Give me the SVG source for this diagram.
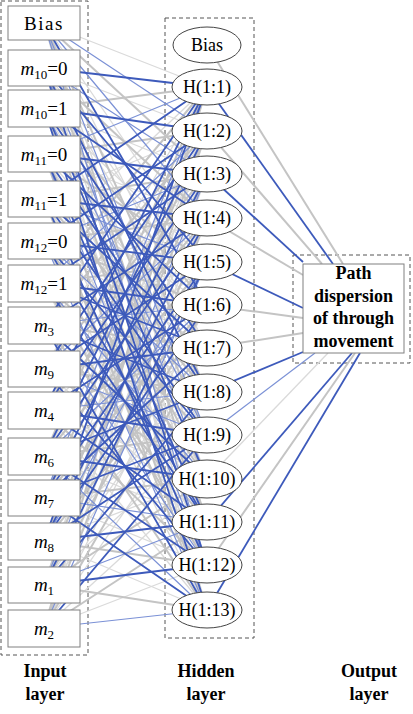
<svg xmlns="http://www.w3.org/2000/svg" width="413" height="714" viewBox="0 0 413 714">
<style>
.g{stroke:#dadada;stroke-width:1.3;fill:none}
.G{stroke:#c4c4c4;stroke-width:2;fill:none}
.b{stroke:#7b91d6;stroke-width:1.2;fill:none}
.B{stroke:#3d5abb;stroke-width:1.8;fill:none}
.dash{fill:none;stroke:#555;stroke-width:1;stroke-dasharray:4,3}
.box{fill:#fff;stroke:#808080;stroke-width:1}
.ell{fill:#fff;stroke:#444;stroke-width:1}
.t{font-family:"Liberation Serif","Times New Roman",serif;font-size:19px;fill:#000;text-anchor:middle}
.h{font-family:"Liberation Serif","Times New Roman",serif;font-size:18px;fill:#000;text-anchor:middle}
.bold{font-family:"Liberation Serif","Times New Roman",serif;font-size:18px;font-weight:bold;fill:#000;text-anchor:middle}
</style>
<rect width="413" height="714" fill="#fff"/>
<g id="frames">
<rect class="dash" x="1" y="1" width="87" height="654"/>
<rect class="dash" x="165" y="18" width="89" height="620"/>
<rect class="dash" x="293" y="255" width="117" height="108"/>
</g>
<g id="connectors">
<path class="g" d="M44 23L207 87M44 23L207 262M44 23L207 348M44 23L207 479M44 23L207 610"/>
<path class="g" d="M44 68L207 131M44 68L207 305M44 68L207 348M44 68L207 522M44 68L207 610"/>
<path class="g" d="M44 108L207 174M44 108L207 262M44 108L207 392M44 108L207 565"/>
<path class="g" d="M44 154L207 218M44 154L207 348M44 154L207 435"/>
<path class="g" d="M44 199L207 131M44 199L207 305M44 199L207 479M44 199L207 522"/>
<path class="g" d="M44 241L207 87M44 241L207 348M44 241L207 565"/>
<path class="g" d="M44 283L207 218M44 283L207 392M44 283L207 610"/>
<path class="g" d="M44 325L207 174M44 325L207 262M44 325L207 435"/>
<path class="g" d="M44 369L207 87M44 369L207 305M44 369L207 522"/>
<path class="g" d="M44 410L207 131M44 410L207 262M44 410L207 479M44 410L207 610"/>
<path class="g" d="M44 456L207 174M44 456L207 348M44 456L207 522"/>
<path class="g" d="M44 498L207 218M44 498L207 392M44 498L207 565"/>
<path class="g" d="M44 541L207 131M44 541L207 392M44 541L207 479M44 541L207 610"/>
<path class="g" d="M44 585L207 87M44 585L207 218M44 585L207 348M44 585L207 435"/>
<path class="g" d="M44 628L207 131M44 628L207 174M44 628L207 305M44 628L207 392M44 628L207 479M44 628L207 565"/>
<path class="G" d="M44 23L207 174M44 23L207 392M44 23L207 522"/>
<path class="G" d="M44 68L207 218M44 68L207 435"/>
<path class="G" d="M44 108L207 87M44 108L207 305M44 108L207 522"/>
<path class="G" d="M44 154L207 131M44 154L207 262M44 154L207 479M44 154L207 610"/>
<path class="G" d="M44 199L207 174M44 199L207 392M44 199L207 610"/>
<path class="G" d="M44 241L207 218M44 241L207 305M44 241L207 479"/>
<path class="G" d="M44 283L207 87M44 283L207 262M44 283L207 435M44 283L207 565"/>
<path class="G" d="M44 325L207 131M44 325L207 348M44 325L207 522"/>
<path class="G" d="M44 369L207 174M44 369L207 392M44 369L207 479M44 369L207 610"/>
<path class="G" d="M44 410L207 218M44 410L207 348M44 410L207 565"/>
<path class="G" d="M44 456L207 87M44 456L207 262M44 456L207 435"/>
<path class="G" d="M44 498L207 131M44 498L207 305M44 498L207 479"/>
<path class="G" d="M44 541L207 174M44 541L207 348M44 541L207 565"/>
<path class="G" d="M44 585L207 131M44 585L207 305M44 585L207 479M44 585L207 610"/>
<path class="G" d="M44 628L207 87M44 628L207 218M44 628L207 348M44 628L207 522"/>
<path class="b" d="M44 23L207 131M44 23L207 218M44 23L207 435M44 23L207 565"/>
<path class="b" d="M44 68L207 174M44 68L207 479"/>
<path class="b" d="M44 108L207 435"/>
<path class="b" d="M44 154L207 87M44 154L207 565"/>
<path class="b" d="M44 199L207 262"/>
<path class="b" d="M44 241L207 174M44 241L207 392M44 241L207 610"/>
<path class="b" d="M44 283L207 131M44 283L207 479"/>
<path class="b" d="M44 325L207 305M44 325L207 565"/>
<path class="b" d="M44 369L207 218M44 369L207 435"/>
<path class="b" d="M44 410L207 392"/>
<path class="b" d="M44 456L207 305M44 456L207 610"/>
<path class="b" d="M44 498L207 87M44 498L207 522"/>
<path class="b" d="M44 541L207 262"/>
<path class="b" d="M44 585L207 174M44 585L207 522"/>
<path class="b" d="M44 628L207 262M44 628L207 610"/>
<path class="B" d="M44 23L207 305"/>
<path class="B" d="M44 68L207 87M44 68L207 262M44 68L207 392M44 68L207 565"/>
<path class="B" d="M44 108L207 131M44 108L207 218M44 108L207 348M44 108L207 479M44 108L207 610"/>
<path class="B" d="M44 154L207 174M44 154L207 305M44 154L207 392M44 154L207 522"/>
<path class="B" d="M44 199L207 87M44 199L207 218M44 199L207 348M44 199L207 435M44 199L207 565"/>
<path class="B" d="M44 241L207 131M44 241L207 262M44 241L207 435M44 241L207 522"/>
<path class="B" d="M44 283L207 174M44 283L207 305M44 283L207 348M44 283L207 522"/>
<path class="B" d="M44 325L207 87M44 325L207 218M44 325L207 392M44 325L207 479M44 325L207 610"/>
<path class="B" d="M44 369L207 131M44 369L207 262M44 369L207 348M44 369L207 565"/>
<path class="B" d="M44 410L207 87M44 410L207 174M44 410L207 305M44 410L207 435M44 410L207 522"/>
<path class="B" d="M44 456L207 131M44 456L207 218M44 456L207 392M44 456L207 479M44 456L207 565"/>
<path class="B" d="M44 498L207 174M44 498L207 262M44 498L207 348M44 498L207 435M44 498L207 610"/>
<path class="B" d="M44 541L207 87M44 541L207 218M44 541L207 305M44 541L207 435M44 541L207 522"/>
<path class="B" d="M44 585L207 262M44 585L207 392M44 585L207 565"/>
<path class="B" d="M44 628L207 435"/>
<path class="G" d="M207 45L343 264"/>
<path class="B" d="M207 87L333 264"/>
<path class="G" d="M207 131L322 264"/>
<path class="B" d="M207 174L303 262"/>
<path class="G" d="M207 218L303 275"/>
<path class="B" d="M207 262L303 308"/>
<path class="G" d="M207 305L303 318"/>
<path class="G" d="M207 348L303 333"/>
<path class="B" d="M207 392L303 352"/>
<path class="b" d="M207 435L315 353"/>
<path class="g" d="M207 479L328 353"/>
<path class="B" d="M207 522L352 353"/>
<path class="G" d="M207 565L355 353"/>
<path class="B" d="M207 610L360 353"/>
</g>
<g id="in-bias"><rect class="box" x="8" y="6" width="72" height="34"/><text class="t" x="44" y="29.5" font-size="20" letter-spacing="1.5">Bias</text></g>
<g id="in-m10-0"><rect class="box" x="8" y="50" width="72" height="36"/><text class="t" x="44" y="75"><tspan font-style="italic">m</tspan><tspan font-size="13" dy="4">10</tspan><tspan dy="-4">=0</tspan></text></g>
<g id="in-m10-1"><rect class="box" x="8" y="90" width="72" height="37"/><text class="t" x="44" y="115"><tspan font-style="italic">m</tspan><tspan font-size="13" dy="4">10</tspan><tspan dy="-4">=1</tspan></text></g>
<g id="in-m11-0"><rect class="box" x="8" y="136" width="72" height="36"/><text class="t" x="44" y="161"><tspan font-style="italic">m</tspan><tspan font-size="13" dy="4">11</tspan><tspan dy="-4">=0</tspan></text></g>
<g id="in-m11-1"><rect class="box" x="8" y="181" width="72" height="36"/><text class="t" x="44" y="206"><tspan font-style="italic">m</tspan><tspan font-size="13" dy="4">11</tspan><tspan dy="-4">=1</tspan></text></g>
<g id="in-m12-0"><rect class="box" x="8" y="223" width="72" height="36"/><text class="t" x="44" y="248"><tspan font-style="italic">m</tspan><tspan font-size="13" dy="4">12</tspan><tspan dy="-4">=0</tspan></text></g>
<g id="in-m12-1"><rect class="box" x="8" y="265" width="72" height="37"/><text class="t" x="44" y="290"><tspan font-style="italic">m</tspan><tspan font-size="13" dy="4">12</tspan><tspan dy="-4">=1</tspan></text></g>
<g id="in-m3"><rect class="box" x="8" y="307" width="72" height="37"/><text class="t" x="44" y="332"><tspan font-style="italic">m</tspan><tspan font-size="13" dy="4">3</tspan></text></g>
<g id="in-m9"><rect class="box" x="8" y="351" width="72" height="36"/><text class="t" x="44" y="375"><tspan font-style="italic">m</tspan><tspan font-size="13" dy="4">9</tspan></text></g>
<g id="in-m4"><rect class="box" x="8" y="392" width="72" height="37"/><text class="t" x="44" y="417"><tspan font-style="italic">m</tspan><tspan font-size="13" dy="4">4</tspan></text></g>
<g id="in-m6"><rect class="box" x="8" y="438" width="72" height="37"/><text class="t" x="44" y="463"><tspan font-style="italic">m</tspan><tspan font-size="13" dy="4">6</tspan></text></g>
<g id="in-m7"><rect class="box" x="8" y="480" width="72" height="36"/><text class="t" x="44" y="504"><tspan font-style="italic">m</tspan><tspan font-size="13" dy="4">7</tspan></text></g>
<g id="in-m8"><rect class="box" x="8" y="523" width="72" height="37"/><text class="t" x="44" y="548"><tspan font-style="italic">m</tspan><tspan font-size="13" dy="4">8</tspan></text></g>
<g id="in-m1"><rect class="box" x="8" y="567" width="72" height="36"/><text class="t" x="44" y="591"><tspan font-style="italic">m</tspan><tspan font-size="13" dy="4">1</tspan></text></g>
<g id="in-m2"><rect class="box" x="8" y="610" width="72" height="37"/><text class="t" x="44" y="635"><tspan font-style="italic">m</tspan><tspan font-size="13" dy="4">2</tspan></text></g>
<g id="h-bias"><ellipse class="ell" cx="207" cy="45" rx="34" ry="18"/><text class="h" x="207" y="51">Bias</text></g>
<g id="h1"><ellipse class="ell" cx="207" cy="87" rx="35" ry="18"/><text class="h" x="207" y="93">H(1:1)</text></g>
<g id="h2"><ellipse class="ell" cx="207" cy="131" rx="35" ry="18"/><text class="h" x="207" y="137">H(1:2)</text></g>
<g id="h3"><ellipse class="ell" cx="207" cy="174" rx="35" ry="18"/><text class="h" x="207" y="180">H(1:3)</text></g>
<g id="h4"><ellipse class="ell" cx="207" cy="218" rx="35" ry="18"/><text class="h" x="207" y="224">H(1:4)</text></g>
<g id="h5"><ellipse class="ell" cx="207" cy="262" rx="35" ry="18"/><text class="h" x="207" y="268">H(1:5)</text></g>
<g id="h6"><ellipse class="ell" cx="207" cy="305" rx="35" ry="18"/><text class="h" x="207" y="311">H(1:6)</text></g>
<g id="h7"><ellipse class="ell" cx="207" cy="348" rx="35" ry="18"/><text class="h" x="207" y="354">H(1:7)</text></g>
<g id="h8"><ellipse class="ell" cx="207" cy="392" rx="35" ry="18"/><text class="h" x="207" y="398">H(1:8)</text></g>
<g id="h9"><ellipse class="ell" cx="207" cy="435" rx="35" ry="18"/><text class="h" x="207" y="441">H(1:9)</text></g>
<g id="h10"><ellipse class="ell" cx="207" cy="479" rx="35" ry="19"/><text class="h" x="207" y="485">H(1:10)</text></g>
<g id="h11"><ellipse class="ell" cx="207" cy="522" rx="35" ry="18"/><text class="h" x="207" y="528">H(1:11)</text></g>
<g id="h12"><ellipse class="ell" cx="207" cy="565" rx="35" ry="18"/><text class="h" x="207" y="571">H(1:12)</text></g>
<g id="h13"><ellipse class="ell" cx="207" cy="610" rx="35" ry="18"/><text class="h" x="207" y="616">H(1:13)</text></g>
<g id="output"><rect class="box" x="303" y="264" width="101" height="89"/>
<text class="bold" x="353.5" y="279">Path</text>
<text class="bold" x="353.5" y="301.5">dispersion</text>
<text class="bold" x="353.5" y="324">of through</text>
<text class="bold" x="353.5" y="346.5">movement</text></g>
<g id="labels">
<text class="bold" x="45" y="677">Input</text><text class="bold" x="45" y="700">layer</text>
<text class="bold" x="206" y="677">Hidden</text><text class="bold" x="206" y="700">layer</text>
<text class="bold" x="369" y="677">Output</text><text class="bold" x="369" y="700">layer</text>
</g>
</svg>
